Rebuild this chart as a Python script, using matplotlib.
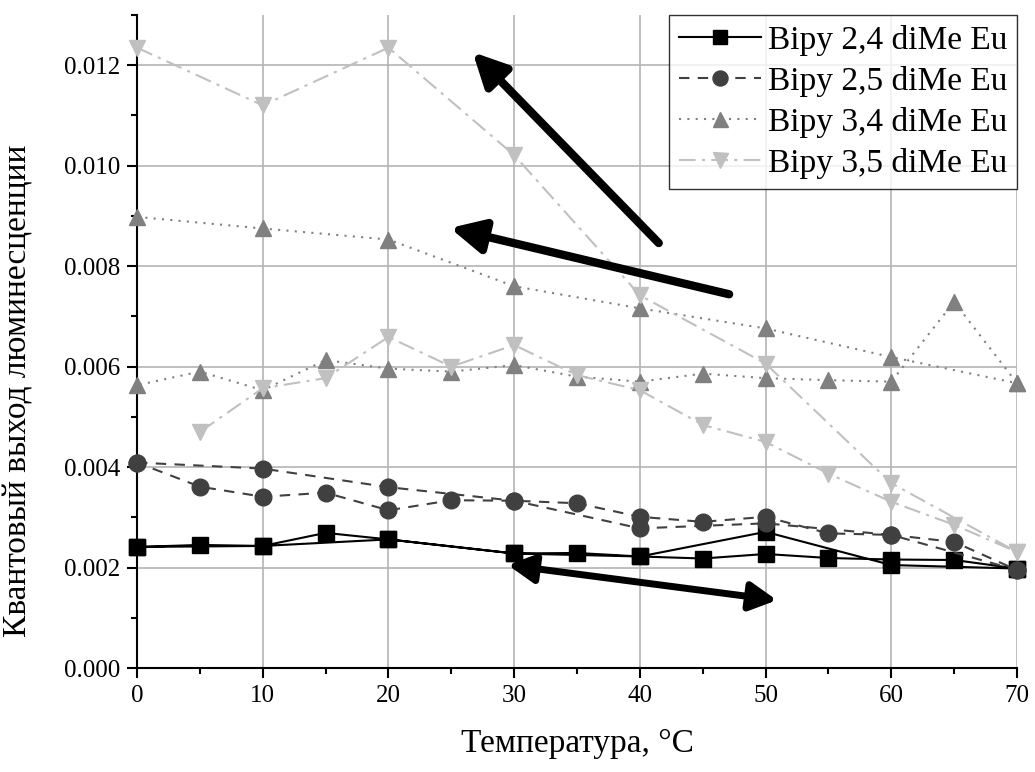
import matplotlib
matplotlib.use("Agg")
import matplotlib.pyplot as plt
from matplotlib.ticker import MultipleLocator, FormatStrFormatter

plt.rcParams['font.family'] = ['Liberation Serif', 'DejaVu Serif']

# heating run (10 degree steps) then cooling run (5 degree steps)
t_heat = [0, 10, 20, 30, 40, 50, 60, 70]

names = ['Bipy 2,4 diMe Eu', 'Bipy 2,5 diMe Eu', 'Bipy 3,4 diMe Eu', 'Bipy 3,5 diMe Eu']

heat_24 = [0.00241, 0.00243, 0.00256, 0.00228, 0.00222, 0.00271, 0.00205, 0.00198]
t_cool_24 = [70, 65, 60, 55, 50, 45, 40, 35, 30, 20, 15, 10, 5, 0]
cool_24 = [0.00198, 0.00215, 0.00216, 0.00219, 0.00227, 0.00218, 0.00222, 0.00229,
           0.00228, 0.00256, 0.00269, 0.00243, 0.00245, 0.00241]

heat_25 = [0.00409, 0.00397, 0.00360, 0.00333, 0.00278, 0.00288, 0.00265, 0.00195]
t_cool_25 = [70, 65, 60, 55, 50, 45, 40, 35, 30, 25, 20, 15, 10, 5, 0]
cool_25 = [0.00195, 0.00251, 0.00265, 0.00268, 0.00301, 0.00291, 0.00301, 0.00328,
           0.00333, 0.00334, 0.00314, 0.00349, 0.00341, 0.00361, 0.00409]

heat_34 = [0.00898, 0.00875, 0.00853, 0.00760, 0.00716, 0.00676, 0.00619, 0.00567]
t_cool_34 = [70, 65, 60, 55, 50, 45, 40, 35, 30, 25, 20, 15, 10, 5, 0]
cool_34 = [0.00567, 0.00729, 0.00570, 0.00573, 0.00577, 0.00586, 0.00570, 0.00580,
           0.00603, 0.00590, 0.00596, 0.00613, 0.00553, 0.00590, 0.00563]

heat_35 = [0.01235, 0.01120, 0.01235, 0.01021, 0.00742, 0.00606, 0.00368, 0.00231]
t_cool_35 = [70, 65, 60, 55, 50, 45, 40, 35, 30, 25, 20, 15, 10, 5]
cool_35 = [0.00231, 0.00285, 0.00331, 0.00387, 0.00450, 0.00484, 0.00553, 0.00583,
           0.00643, 0.00600, 0.00659, 0.00577, 0.00557, 0.00470]

series = [
    (t_heat + t_cool_24, heat_24 + cool_24, 's', '-', '#000000', 11),
    (t_heat + t_cool_25, heat_25 + cool_25, 'o', (0, (5, 4)), '#404040', 12),
    (t_heat + t_cool_34, heat_34 + cool_34, '^', (0, (1, 3)), '#808080', 12),
    (t_heat + t_cool_35, heat_35 + cool_35, 'v', (0, (8, 3, 1.5, 3)), '#c0c0c0', 12),
]

fig = plt.figure(figsize=(10.35, 7.72), dpi=100)
ax = fig.add_axes([0.1324, 0.1347, 0.8502, 0.8459])

for (x, y, m, ls, c, ms), name in zip(series, names):
    ax.plot(x, y, marker=m, linestyle=ls, color=c, markersize=ms, linewidth=1.5,
            label=name, clip_on=False, zorder=3)

# arrows
arr = dict(arrowstyle='-|>,head_length=2.0,head_width=1.0', lw=6, color='black',
           mutation_scale=10, shrinkA=0, shrinkB=0)
ax.annotate('', xy=(26.7, 0.01226), xytext=(41.5, 0.00846), arrowprops=arr, zorder=4)
ax.annotate('', xy=(24.9, 0.00876), xytext=(47.1, 0.00744), arrowprops=arr, zorder=4)
arr2 = dict(arr, arrowstyle='<|-|>,head_length=1.6,head_width=0.85', lw=5)
ax.annotate('', xy=(29.5, 0.00205), xytext=(50.9, 0.00135), arrowprops=arr2, zorder=4)

ax.set_xlim(0, 70)
ax.set_ylim(0, 0.013)
ax.xaxis.set_major_locator(MultipleLocator(10))
ax.xaxis.set_minor_locator(MultipleLocator(5))
ax.yaxis.set_minor_locator(MultipleLocator(0.001))
ax.set_yticks([0, 0.002, 0.004, 0.006, 0.008, 0.010, 0.012])
ax.yaxis.set_major_formatter(FormatStrFormatter('%.3f'))

ax.grid(True, which='major', color='#b4b4b4', linewidth=1.2)
ax.set_axisbelow(True)
for s in ['top', 'right']:
    ax.spines[s].set_visible(False)
for s in ['left', 'bottom']:
    ax.spines[s].set_linewidth(1.5)

ax.tick_params(which='major', direction='out', length=7, width=1.5, labelsize=18, pad=5)
ax.tick_params(which='minor', direction='out', length=4, width=1.5)

ax.set_xlabel('Температура, °C', fontsize=24, labelpad=16)
ax.set_ylabel('Квантовый выход люминесценции', fontsize=24)
ax.yaxis.set_label_coords(-0.118, 0.424)

leg = ax.legend(loc='upper right', fontsize=24, frameon=True, fancybox=False,
                edgecolor='black', handlelength=2.45, handletextpad=0.2,
                borderpad=0.3, labelspacing=0.3, borderaxespad=0.0, markerscale=0.9)
leg.get_frame().set_linewidth(1.0)

fig.savefig('out.png', dpi=100)
